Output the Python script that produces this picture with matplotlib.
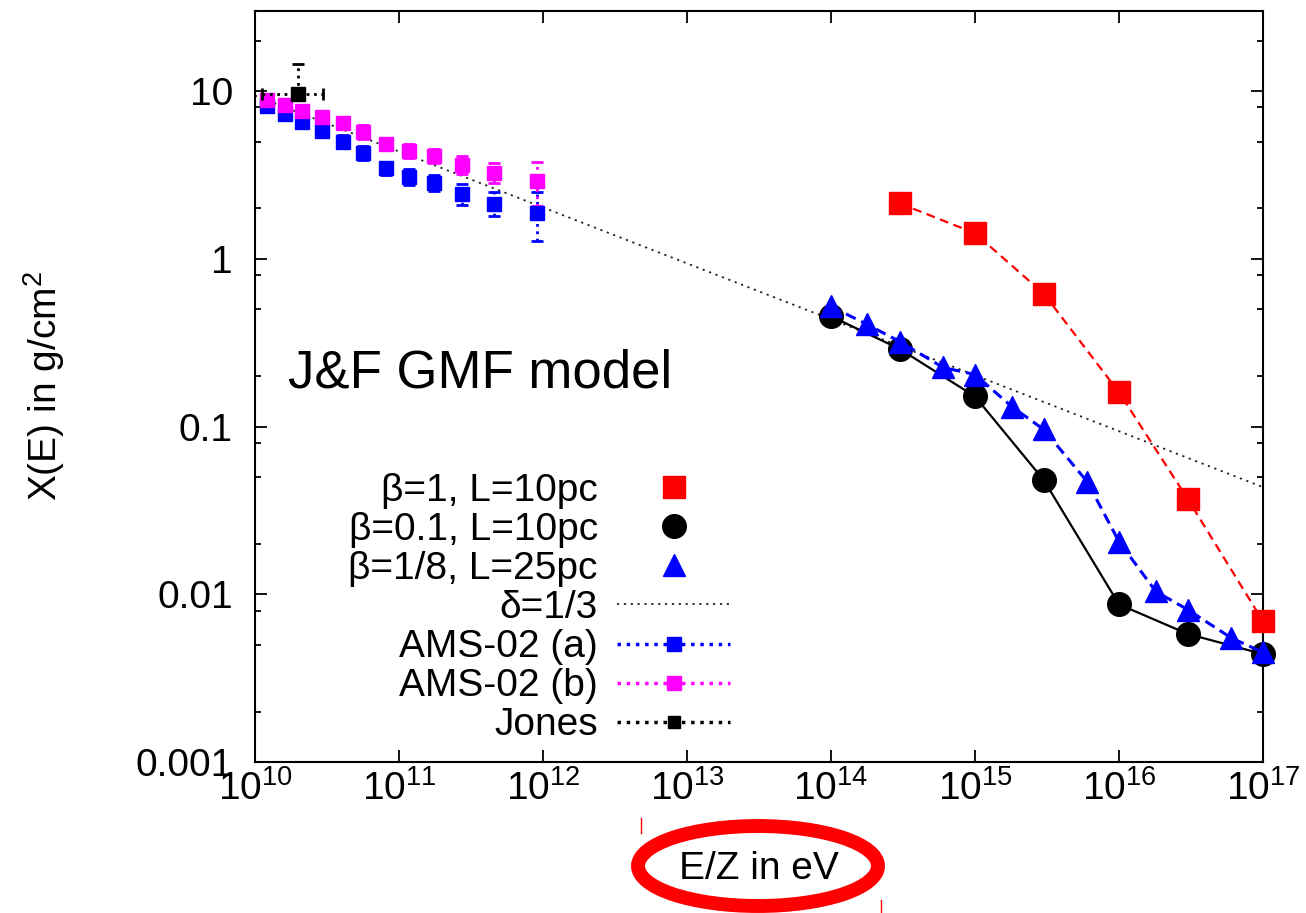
import numpy as np
import matplotlib.pyplot as plt
from matplotlib import ticker
from matplotlib.lines import Line2D
from matplotlib.patches import Ellipse

plt.rcParams['font.family'] = ['Liberation Sans', 'DejaVu Sans']
plt.rcParams['mathtext.fontset'] = 'custom'
plt.rcParams['mathtext.rm'] = 'Liberation Sans'
plt.rcParams['mathtext.it'] = 'Liberation Sans:italic'
plt.rcParams['mathtext.default'] = 'regular'

# ---- values ----
# beta=1, L=10pc
red_E = [3e14, 1e15, 3e15, 1e16, 3e16, 1e17]
red_X = [2.14, 1.42, 0.62, 0.16, 0.037, 0.0069]

# beta=0.1, L=10pc
black_E = [1e14, 3e14, 1e15, 3e15, 1e16, 3e16, 1e17]
black_X = [0.454, 0.29, 0.151, 0.048, 0.0087, 0.0058, 0.0044]

# beta=1/8, L=25pc
blue_E = [1e14, 1.78e14, 3e14, 6e14, 1e15, 1.8e15, 3e15, 6e15,
          1e16, 1.8e16, 3e16, 6e16, 1e17]
blue_X = [0.52, 0.406, 0.321, 0.225, 0.204, 0.1315, 0.096, 0.047,
          0.0206, 0.0104, 0.0081, 0.0055, 0.0045]

# delta = 1/3 power law (end points)
delta_E = [1e10, 1e17]
delta_X = [9.4, 0.0435]

# AMS-02 data (energies shared by both sets)
ams_E = [1.21e10, 1.61e10, 2.12e10, 2.92e10, 4.08e10, 5.62e10,
         8.13e10, 1.17e11, 1.75e11, 2.74e11, 4.57e11, 9.08e11]
ams_a_X = [8.1, 7.3, 6.5, 5.8, 5.0, 4.3, 3.5, 3.07, 2.82, 2.43, 2.12, 1.87]
ams_a_lo = [7.7, 6.9, 6.1, 5.4, 4.6, 3.9, 3.15, 2.75, 2.53, 2.1, 1.8, 1.27]
ams_a_hi = [8.6, 7.7, 7.0, 6.2, 5.5, 4.7, 3.8, 3.42, 3.15, 2.78, 2.49, 2.49]
ams_b_X = [8.84, 8.25, 7.6, 6.99, 6.44, 5.69, 4.83, 4.38, 4.09, 3.62, 3.24, 2.90]
ams_b_lo = [8.36, 7.8, 7.1, 6.53, 5.93, 5.17, 4.44, 3.98, 3.72, 3.2, 2.82, 2.06]
ams_b_hi = [9.34, 8.7, 8.14, 7.5, 7.0, 6.27, 5.24, 4.83, 4.5, 4.09, 3.72, 3.77]

# Jones
jones_E = [2.0e10]
jones_X = [9.6]
jones_E_lo = [1.12e10]
jones_E_hi = [2.96e10]
jones_X_lo = [8.8]
jones_X_hi = [14.5]

legend_labels = ['β=1, L=10pc', 'β=0.1, L=10pc', 'β=1/8, L=25pc', 'δ=1/3',
                 'AMS-02 (a)', 'AMS-02 (b)', 'Jones']

FS = 28

fig = plt.figure(figsize=(13.06, 9.13), dpi=100)
ax = fig.add_axes([255 / 1306, 1 - 762 / 913, 1008 / 1306, 751 / 913])
ax.set_xscale('log')
ax.set_yscale('log')

dots = (0, (1.2, 2.6))

ax.plot(delta_E, delta_X, color='#222222', lw=1.3, ls=dots, zorder=2)


def ams(x, y, lo, hi, color):
    y = np.array(y)
    err = [y - np.array(lo), np.array(hi) - y]
    eb = ax.errorbar(x, y, yerr=err, fmt='s', color=color, ms=10,
                     capsize=4, capthick=2, elinewidth=2, zorder=3)
    for c in eb.lines[2]:
        c.set_linestyle(':')


ams(ams_E, ams_a_X, ams_a_lo, ams_a_hi, 'blue')
ams(ams_E, ams_b_X, ams_b_lo, ams_b_hi, 'magenta')

jx = np.array(jones_E)
jy = np.array(jones_X)
eb = ax.errorbar(jx, jy,
                 xerr=[jx - np.array(jones_E_lo), np.array(jones_E_hi) - jx],
                 yerr=[jy - np.array(jones_X_lo), np.array(jones_X_hi) - jy],
                 fmt='s', color='black', ms=10, capsize=4, capthick=2,
                 elinewidth=2, zorder=4)
for c in eb.lines[2]:
    c.set_linestyle(':')

# model curves, markers allowed to spill over the frame like gnuplot
ax.plot(red_E, red_X, color='red', ls='--', dashes=(4, 2.5), lw=1.6,
        marker='s', ms=16, zorder=5, clip_on=False)
ax.plot(black_E, black_X, color='black', ls='-', lw=1.6,
        marker='o', ms=17, zorder=6, clip_on=False)
ax.plot(blue_E, blue_X, color='blue', ls='--', dashes=(3.5, 2), lw=2.2,
        marker='^', ms=16, zorder=7, clip_on=False)

ax.set_xlim(1e10, 1e17)
ax.set_ylim(1e-3, 30)

ax.xaxis.set_major_locator(ticker.LogLocator(base=10, numticks=20))
ax.xaxis.set_minor_locator(ticker.NullLocator())
ax.xaxis.set_major_formatter(ticker.FuncFormatter(
    lambda v, p: '$10^{%d}$' % round(np.log10(v))))
ax.yaxis.set_major_locator(ticker.FixedLocator([0.001, 0.01, 0.1, 1, 10]))
ax.yaxis.set_major_formatter(ticker.FixedFormatter(['0.001', '0.01', '0.1', '1', '10']))
ax.yaxis.set_minor_locator(ticker.LogLocator(base=10, subs=[2, 5, 8], numticks=20))
ax.yaxis.set_minor_formatter(ticker.NullFormatter())

ax.tick_params(which='both', direction='in', top=True, right=True,
               labelsize=FS, width=1.3)
ax.tick_params(which='major', length=8.5)
ax.tick_params(which='minor', length=4.5)
ax.tick_params(axis='x', pad=6)
ax.tick_params(axis='y', pad=16)
for s in ax.spines.values():
    s.set_linewidth(1.5)

ax.set_xlabel('E/Z in eV', fontsize=FS)
ax.xaxis.label.set_va('baseline')
ax.xaxis.set_label_coords(0.5, -(879 - 762) / 751)
ax.set_ylabel('X(E) in g/cm$^2$', fontsize=FS)
ax.yaxis.label.set_va('center')
ax.yaxis.set_label_coords((44 - 255) / 1008, 0.5)

ax.text((288 - 255) / 1008, (762 - 387) / 751, 'J&F GMF model',
        transform=ax.transAxes, fontsize=38, va='baseline', ha='left')

handles = [
    Line2D([], [], color='red', marker='s', ms=16, ls='none'),
    Line2D([], [], color='black', marker='o', ms=17, ls='none'),
    Line2D([], [], color='blue', marker='^', ms=16, ls='none'),
    Line2D([], [], color='#222222', ls=dots, lw=1.3),
    Line2D([], [], color='blue', marker='s', ms=10, ls=':', lw=2.5),
    Line2D([], [], color='magenta', marker='s', ms=10, ls=':', lw=2.5),
    Line2D([], [], color='black', marker='s', ms=9, ls=':', lw=2.5),
]
ax.legend(handles, legend_labels, loc='center right',
          bbox_to_anchor=((730 - 255) / 1008, (762 - 608) / 751),
          frameon=False, markerfirst=False, fontsize=FS, numpoints=1,
          handlelength=2.9, handletextpad=0.5, labelspacing=0.08,
          borderpad=0, borderaxespad=0)

# red highlight round the x-axis title
fig.add_artist(Ellipse((758 / 1306, 1 - 866 / 913), 240 / 1306, 80 / 913,
                       transform=fig.transFigure, fill=False,
                       edgecolor='red', lw=10))
fig.add_artist(Line2D([641 / 1306] * 2, [1 - 818 / 913, 1 - 833 / 913],
                      transform=fig.transFigure, color='red', lw=1))
fig.add_artist(Line2D([881 / 1306] * 2, [1 - 900 / 913, 1 - 913 / 913],
                      transform=fig.transFigure, color='red', lw=1))

fig.savefig('out.png', dpi=100)
